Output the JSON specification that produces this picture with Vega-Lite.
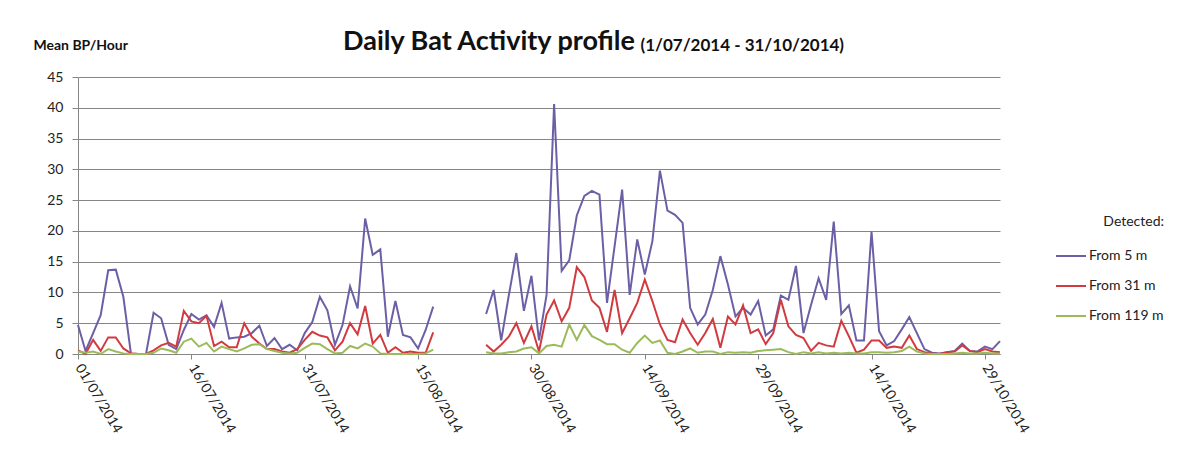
{
  "$schema": "https://vega.github.io/schema/vega-lite/v6.json",
  "width": 922,
  "height": 277,
  "autosize": {"type": "none"},
  "padding": {"left": 78, "top": 77, "right": 185, "bottom": 121},
  "background": "white",
  "title": {
    "text": "Daily Bat Activity profile",
    "anchor": "start",
    "frame": "group",
    "dx": 265,
    "dy": 24,
    "font": "Lato",
    "fontSize": 27,
    "fontWeight": "bold",
    "color": "#111111"
  },
  "config": {"view": {"stroke": null}},
  "data": {
    "values": [
      {"date": "2014-07-01", "From 5 m": 4.7, "From 31 m": 0.6, "From 119 m": 0.4},
      {"date": "2014-07-02", "From 5 m": 0.5, "From 31 m": 0.0, "From 119 m": 0.2},
      {"date": "2014-07-03", "From 5 m": 3.4, "From 31 m": 2.3, "From 119 m": 0.4},
      {"date": "2014-07-04", "From 5 m": 6.3, "From 31 m": 0.5, "From 119 m": 0.0},
      {"date": "2014-07-05", "From 5 m": 13.6, "From 31 m": 2.7, "From 119 m": 0.8},
      {"date": "2014-07-06", "From 5 m": 13.7, "From 31 m": 2.7, "From 119 m": 0.4},
      {"date": "2014-07-07", "From 5 m": 9.3, "From 31 m": 0.9, "From 119 m": 0.1},
      {"date": "2014-07-08", "From 5 m": 0.1, "From 31 m": 0.1, "From 119 m": 0.0},
      {"date": "2014-07-09", "From 5 m": 0.0, "From 31 m": 0.0, "From 119 m": 0.0},
      {"date": "2014-07-10", "From 5 m": 0.0, "From 31 m": 0.0, "From 119 m": 0.0},
      {"date": "2014-07-11", "From 5 m": 6.7, "From 31 m": 0.6, "From 119 m": 0.2},
      {"date": "2014-07-12", "From 5 m": 5.8, "From 31 m": 1.4, "From 119 m": 0.9},
      {"date": "2014-07-13", "From 5 m": 1.5, "From 31 m": 1.8, "From 119 m": 0.6},
      {"date": "2014-07-14", "From 5 m": 0.8, "From 31 m": 1.2, "From 119 m": 0.2},
      {"date": "2014-07-15", "From 5 m": 3.9, "From 31 m": 7.0, "From 119 m": 2.0},
      {"date": "2014-07-16", "From 5 m": 6.5, "From 31 m": 5.3, "From 119 m": 2.5},
      {"date": "2014-07-17", "From 5 m": 5.6, "From 31 m": 5.0, "From 119 m": 1.2},
      {"date": "2014-07-18", "From 5 m": 6.3, "From 31 m": 6.2, "From 119 m": 1.8},
      {"date": "2014-07-19", "From 5 m": 4.4, "From 31 m": 1.3, "From 119 m": 0.4},
      {"date": "2014-07-20", "From 5 m": 8.3, "From 31 m": 2.0, "From 119 m": 1.2},
      {"date": "2014-07-21", "From 5 m": 2.5, "From 31 m": 1.1, "From 119 m": 0.8},
      {"date": "2014-07-22", "From 5 m": 2.7, "From 31 m": 1.1, "From 119 m": 0.4},
      {"date": "2014-07-23", "From 5 m": 2.8, "From 31 m": 5.0, "From 119 m": 0.9},
      {"date": "2014-07-24", "From 5 m": 3.4, "From 31 m": 2.8, "From 119 m": 1.5},
      {"date": "2014-07-25", "From 5 m": 4.6, "From 31 m": 1.7, "From 119 m": 1.6},
      {"date": "2014-07-26", "From 5 m": 1.3, "From 31 m": 0.8, "From 119 m": 0.8},
      {"date": "2014-07-27", "From 5 m": 2.6, "From 31 m": 0.8, "From 119 m": 0.5},
      {"date": "2014-07-28", "From 5 m": 0.8, "From 31 m": 0.4, "From 119 m": 0.2},
      {"date": "2014-07-29", "From 5 m": 1.5, "From 31 m": 0.2, "From 119 m": 0.1},
      {"date": "2014-07-30", "From 5 m": 0.6, "From 31 m": 0.8, "From 119 m": 0.2},
      {"date": "2014-07-31", "From 5 m": 3.4, "From 31 m": 2.3, "From 119 m": 1.0},
      {"date": "2014-08-01", "From 5 m": 5.2, "From 31 m": 3.6, "From 119 m": 1.7},
      {"date": "2014-08-02", "From 5 m": 9.3, "From 31 m": 3.0, "From 119 m": 1.6},
      {"date": "2014-08-03", "From 5 m": 7.1, "From 31 m": 2.7, "From 119 m": 0.8},
      {"date": "2014-08-04", "From 5 m": 1.5, "From 31 m": 0.6, "From 119 m": 0.1},
      {"date": "2014-08-05", "From 5 m": 4.7, "From 31 m": 2.0, "From 119 m": 0.2},
      {"date": "2014-08-06", "From 5 m": 11.0, "From 31 m": 5.0, "From 119 m": 1.3},
      {"date": "2014-08-07", "From 5 m": 7.4, "From 31 m": 3.2, "From 119 m": 0.9},
      {"date": "2014-08-08", "From 5 m": 22.0, "From 31 m": 7.8, "From 119 m": 1.7},
      {"date": "2014-08-09", "From 5 m": 16.1, "From 31 m": 1.7, "From 119 m": 1.2},
      {"date": "2014-08-10", "From 5 m": 17.0, "From 31 m": 3.1, "From 119 m": 0.1},
      {"date": "2014-08-11", "From 5 m": 2.8, "From 31 m": 0.2, "From 119 m": 0.0},
      {"date": "2014-08-12", "From 5 m": 8.6, "From 31 m": 1.1, "From 119 m": 0.0},
      {"date": "2014-08-13", "From 5 m": 3.1, "From 31 m": 0.2, "From 119 m": 0.0},
      {"date": "2014-08-14", "From 5 m": 2.7, "From 31 m": 0.4, "From 119 m": 0.0},
      {"date": "2014-08-15", "From 5 m": 0.9, "From 31 m": 0.2, "From 119 m": 0.0},
      {"date": "2014-08-16", "From 5 m": 3.9, "From 31 m": 0.2, "From 119 m": 0.1},
      {"date": "2014-08-17", "From 5 m": 7.7, "From 31 m": 3.5, "From 119 m": 0.7},
      {"date": "2014-08-18", "From 5 m": null, "From 31 m": null, "From 119 m": null},
      {"date": "2014-08-19", "From 5 m": null, "From 31 m": null, "From 119 m": null},
      {"date": "2014-08-20", "From 5 m": null, "From 31 m": null, "From 119 m": null},
      {"date": "2014-08-21", "From 5 m": null, "From 31 m": null, "From 119 m": null},
      {"date": "2014-08-22", "From 5 m": null, "From 31 m": null, "From 119 m": null},
      {"date": "2014-08-23", "From 5 m": null, "From 31 m": null, "From 119 m": null},
      {"date": "2014-08-24", "From 5 m": 6.5, "From 31 m": 1.5, "From 119 m": 0.3},
      {"date": "2014-08-25", "From 5 m": 10.4, "From 31 m": 0.4, "From 119 m": 0.1},
      {"date": "2014-08-26", "From 5 m": 2.2, "From 31 m": 1.5, "From 119 m": 0.1},
      {"date": "2014-08-27", "From 5 m": 9.5, "From 31 m": 2.8, "From 119 m": 0.3},
      {"date": "2014-08-28", "From 5 m": 16.4, "From 31 m": 5.0, "From 119 m": 0.4},
      {"date": "2014-08-29", "From 5 m": 7.0, "From 31 m": 1.8, "From 119 m": 0.9},
      {"date": "2014-08-30", "From 5 m": 12.7, "From 31 m": 4.5, "From 119 m": 1.1},
      {"date": "2014-08-31", "From 5 m": 2.2, "From 31 m": 0.4, "From 119 m": 0.1},
      {"date": "2014-09-01", "From 5 m": 9.6, "From 31 m": 6.4, "From 119 m": 1.3},
      {"date": "2014-09-02", "From 5 m": 40.6, "From 31 m": 8.7, "From 119 m": 1.5},
      {"date": "2014-09-03", "From 5 m": 13.5, "From 31 m": 5.3, "From 119 m": 1.2},
      {"date": "2014-09-04", "From 5 m": 15.2, "From 31 m": 7.5, "From 119 m": 4.8},
      {"date": "2014-09-05", "From 5 m": 22.5, "From 31 m": 14.1, "From 119 m": 2.3},
      {"date": "2014-09-06", "From 5 m": 25.7, "From 31 m": 12.5, "From 119 m": 4.7},
      {"date": "2014-09-07", "From 5 m": 26.5, "From 31 m": 8.7, "From 119 m": 2.9},
      {"date": "2014-09-08", "From 5 m": 25.9, "From 31 m": 7.5, "From 119 m": 2.3},
      {"date": "2014-09-09", "From 5 m": 8.3, "From 31 m": 3.6, "From 119 m": 1.6},
      {"date": "2014-09-10", "From 5 m": 17.5, "From 31 m": 10.4, "From 119 m": 1.6},
      {"date": "2014-09-11", "From 5 m": 26.7, "From 31 m": 3.4, "From 119 m": 0.7},
      {"date": "2014-09-12", "From 5 m": 9.6, "From 31 m": 5.8, "From 119 m": 0.2},
      {"date": "2014-09-13", "From 5 m": 18.6, "From 31 m": 8.3, "From 119 m": 1.8},
      {"date": "2014-09-14", "From 5 m": 12.9, "From 31 m": 12.1, "From 119 m": 3.0},
      {"date": "2014-09-15", "From 5 m": 18.3, "From 31 m": 8.6, "From 119 m": 1.8},
      {"date": "2014-09-16", "From 5 m": 29.8, "From 31 m": 4.8, "From 119 m": 2.2},
      {"date": "2014-09-17", "From 5 m": 23.3, "From 31 m": 2.3, "From 119 m": 0.2},
      {"date": "2014-09-18", "From 5 m": 22.6, "From 31 m": 1.9, "From 119 m": 0.0},
      {"date": "2014-09-19", "From 5 m": 21.3, "From 31 m": 5.6, "From 119 m": 0.4},
      {"date": "2014-09-20", "From 5 m": 7.5, "From 31 m": 3.4, "From 119 m": 0.9},
      {"date": "2014-09-21", "From 5 m": 4.8, "From 31 m": 1.5, "From 119 m": 0.2},
      {"date": "2014-09-22", "From 5 m": 6.4, "From 31 m": 3.4, "From 119 m": 0.4},
      {"date": "2014-09-23", "From 5 m": 10.4, "From 31 m": 5.7, "From 119 m": 0.4},
      {"date": "2014-09-24", "From 5 m": 15.9, "From 31 m": 1.0, "From 119 m": 0.0},
      {"date": "2014-09-25", "From 5 m": 11.3, "From 31 m": 6.1, "From 119 m": 0.3},
      {"date": "2014-09-26", "From 5 m": 6.1, "From 31 m": 4.8, "From 119 m": 0.2},
      {"date": "2014-09-27", "From 5 m": 7.5, "From 31 m": 7.9, "From 119 m": 0.3},
      {"date": "2014-09-28", "From 5 m": 6.4, "From 31 m": 3.4, "From 119 m": 0.2},
      {"date": "2014-09-29", "From 5 m": 8.6, "From 31 m": 4.0, "From 119 m": 0.5},
      {"date": "2014-09-30", "From 5 m": 3.0, "From 31 m": 1.6, "From 119 m": 0.6},
      {"date": "2014-10-01", "From 5 m": 4.0, "From 31 m": 3.4, "From 119 m": 0.7},
      {"date": "2014-10-02", "From 5 m": 9.5, "From 31 m": 8.8, "From 119 m": 0.8},
      {"date": "2014-10-03", "From 5 m": 8.8, "From 31 m": 4.5, "From 119 m": 0.3},
      {"date": "2014-10-04", "From 5 m": 14.3, "From 31 m": 3.1, "From 119 m": 0.0},
      {"date": "2014-10-05", "From 5 m": 3.4, "From 31 m": 2.6, "From 119 m": 0.3},
      {"date": "2014-10-06", "From 5 m": 8.0, "From 31 m": 0.5, "From 119 m": 0.1},
      {"date": "2014-10-07", "From 5 m": 12.3, "From 31 m": 1.8, "From 119 m": 0.3},
      {"date": "2014-10-08", "From 5 m": 8.8, "From 31 m": 1.4, "From 119 m": 0.1},
      {"date": "2014-10-09", "From 5 m": 21.5, "From 31 m": 1.2, "From 119 m": 0.2},
      {"date": "2014-10-10", "From 5 m": 6.5, "From 31 m": 5.4, "From 119 m": 0.1},
      {"date": "2014-10-11", "From 5 m": 7.9, "From 31 m": 2.9, "From 119 m": 0.2},
      {"date": "2014-10-12", "From 5 m": 2.2, "From 31 m": 0.2, "From 119 m": 0.1},
      {"date": "2014-10-13", "From 5 m": 2.2, "From 31 m": 0.7, "From 119 m": 0.1},
      {"date": "2014-10-14", "From 5 m": 19.9, "From 31 m": 2.2, "From 119 m": 0.3},
      {"date": "2014-10-15", "From 5 m": 3.7, "From 31 m": 2.2, "From 119 m": 0.3},
      {"date": "2014-10-16", "From 5 m": 1.4, "From 31 m": 1.0, "From 119 m": 0.2},
      {"date": "2014-10-17", "From 5 m": 2.1, "From 31 m": 1.2, "From 119 m": 0.3},
      {"date": "2014-10-18", "From 5 m": 4.0, "From 31 m": 1.0, "From 119 m": 0.5},
      {"date": "2014-10-19", "From 5 m": 6.0, "From 31 m": 3.0, "From 119 m": 1.2},
      {"date": "2014-10-20", "From 5 m": 3.4, "From 31 m": 0.8, "From 119 m": 0.4},
      {"date": "2014-10-21", "From 5 m": 0.8, "From 31 m": 0.3, "From 119 m": 0.1},
      {"date": "2014-10-22", "From 5 m": 0.2, "From 31 m": 0.1, "From 119 m": 0.0},
      {"date": "2014-10-23", "From 5 m": 0.1, "From 31 m": 0.0, "From 119 m": 0.0},
      {"date": "2014-10-24", "From 5 m": 0.3, "From 31 m": 0.3, "From 119 m": 0.0},
      {"date": "2014-10-25", "From 5 m": 0.5, "From 31 m": 0.4, "From 119 m": 0.1},
      {"date": "2014-10-26", "From 5 m": 1.7, "From 31 m": 1.4, "From 119 m": 0.2},
      {"date": "2014-10-27", "From 5 m": 0.5, "From 31 m": 0.5, "From 119 m": 0.1},
      {"date": "2014-10-28", "From 5 m": 0.4, "From 31 m": 0.3, "From 119 m": 0.1},
      {"date": "2014-10-29", "From 5 m": 1.2, "From 31 m": 0.8, "From 119 m": 0.2},
      {"date": "2014-10-30", "From 5 m": 0.8, "From 31 m": 0.4, "From 119 m": 0.1},
      {"date": "2014-10-31", "From 5 m": 2.1, "From 31 m": 0.3, "From 119 m": 0.1}
    ],
    "format": {"parse": {"date": "date:'%Y-%m-%d'"}}
  },
  "transform": [
    {"fold": ["From 5 m", "From 31 m", "From 119 m"], "as": ["series", "value"]}
  ],
  "mark": {"type": "line", "strokeWidth": 2, "invalid": "break-paths-filter-domains"},
  "encoding": {
    "x": {
      "field": "date",
      "type": "temporal",
      "scale": {
        "domain": [
          {"year": 2014, "month": 7, "date": 1},
          {"year": 2014, "month": 10, "date": 31}
        ]
      },
      "axis": {
        "values": [
          {"year": 2014, "month": 7, "date": 1},
          {"year": 2014, "month": 7, "date": 16},
          {"year": 2014, "month": 7, "date": 31},
          {"year": 2014, "month": 8, "date": 15},
          {"year": 2014, "month": 8, "date": 30},
          {"year": 2014, "month": 9, "date": 14},
          {"year": 2014, "month": 9, "date": 29},
          {"year": 2014, "month": 10, "date": 14},
          {"year": 2014, "month": 10, "date": 29}
        ],
        "format": "%d/%m/%Y",
        "labelAngle": 59,
        "labelAlign": "left",
        "labelBaseline": "middle",
        "labelFont": "Lato",
        "labelFontSize": 14,
        "labelColor": "#222222",
        "labelPadding": 6,
        "labelOverlap": false,
        "labelFlush": false,
        "tickSize": 5,
        "tickColor": "#868686",
        "domainColor": "#868686",
        "grid": false,
        "title": "(1/07/2014 - 31/10/2014)",
        "titleX": 562,
        "titleY": -304,
        "titleAlign": "left",
        "titleBaseline": "alphabetic",
        "titleFont": "Lato",
        "titleFontSize": 17,
        "titleFontWeight": "bold",
        "titleColor": "#111111"
      }
    },
    "y": {
      "field": "value",
      "type": "quantitative",
      "scale": {"domain": [0, 45]},
      "axis": {
        "values": [0, 5, 10, 15, 20, 25, 30, 35, 40, 45],
        "grid": true,
        "gridColor": "#868686",
        "gridWidth": 1,
        "domainColor": "#868686",
        "tickColor": "#868686",
        "tickSize": 6,
        "labelPadding": 9,
        "labelFont": "Lato",
        "labelFontSize": 14,
        "labelColor": "#222222",
        "title": "Mean BP/Hour",
        "titleAngle": 0,
        "titleX": -45,
        "titleY": -28,
        "titleAlign": "left",
        "titleBaseline": "alphabetic",
        "titleFont": "Lato",
        "titleFontSize": 14,
        "titleFontWeight": "bold",
        "titleColor": "#111111"
      }
    },
    "color": {
      "field": "series",
      "type": "nominal",
      "scale": {
        "domain": ["From 5 m", "From 31 m", "From 119 m"],
        "range": ["#6D5FA6", "#D13B3F", "#9BBB59"]
      },
      "legend": {
        "orient": "none",
        "legendX": 977,
        "legendY": 138,
        "title": "Detected:",
        "titleFont": "Lato",
        "titleFontSize": 14,
        "titleFontWeight": "normal",
        "titleColor": "#222222",
        "titleAnchor": "end",
        "titlePadding": 11,
        "labelFont": "Lato",
        "labelFontSize": 14,
        "labelColor": "#222222",
        "labelOffset": 2,
        "symbolType": "stroke",
        "symbolSize": 900,
        "symbolStrokeWidth": 2,
        "rowPadding": 7
      }
    }
  }
}
